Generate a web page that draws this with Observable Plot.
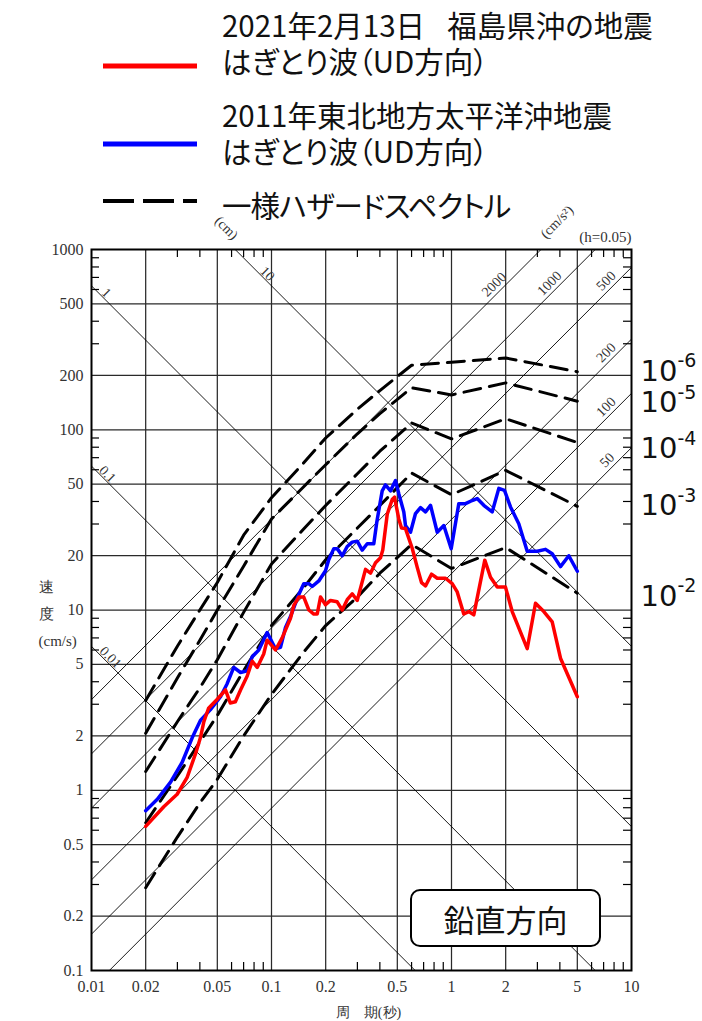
<!DOCTYPE html>
<html><head><meta charset="utf-8">
<script src="https://cdn.jsdelivr.net/npm/d3@7"></script>
<script src="https://cdn.jsdelivr.net/npm/@observablehq/plot@0.6"></script>
<style>
body{margin:0;background:#fff;}
#wrap{position:relative;width:702px;height:1021px;overflow:hidden;background:#fff;}
#legend{position:relative;width:702px;height:205px;font-family:"Noto Sans CJK JP","Noto Sans",sans-serif;color:#111;}
.lt{position:absolute;left:222px;font-size:29.5px;line-height:35.5px;white-space:nowrap;font-feature-settings:"palt";}
#box{position:absolute;left:410px;top:889px;width:191px;height:58px;box-sizing:border-box;border:2px solid #000;border-radius:10px;background:#fff;font-family:"Noto Sans CJK JP",sans-serif;font-size:31px;display:flex;align-items:center;justify-content:center;color:#111;}
#chart svg{display:block;}
</style></head>
<body><div id="wrap">
<div id="legend"></div>
<div id="chart"></div>
<div id="box"></div>
</div>
<script>
// ---------- legend / annotation text ----------
const legendTexts = [["2021年2月13日\u2002\u2005福島県沖の地震", "はぎとり波（UD方向）"], ["2011年東北地方太平洋沖地震", "はぎとり波（UD方向）"], ["一様ハザードスペクトル"]];
const boxText = "鉛直方向";

// ---------- axes ----------
const xTicks = [0.01, 0.02, 0.05, 0.1, 0.2, 0.5, 1, 2, 5, 10];
const xTickLabels = ["0.01", "0.02", "0.05", "0.1", "0.2", "0.5", "1", "2", "5", "10"];
const yTicks = [0.1, 0.2, 0.5, 1, 2, 5, 10, 20, 50, 100, 200, 500, 1000];
const yTickLabels = ["0.1", "0.2", "0.5", "1", "2", "5", "10", "20", "50", "100", "200", "500", "1000"];
const minorMult = [3, 4, 6, 7, 8, 9];
const xDecades = [0.01, 0.1, 1];
const yDecades = [0.1, 1, 10, 100];

// ---------- tripartite lines ----------
const dispValues = [0.01, 0.1, 1, 10];          // cm
const dispLabels = ["0.01", "0.1", "1", "10"];
const dispLabelT = [0.01227, 0.01181, 0.01166, 0.0914];
const accValues = [50, 100, 200, 500, 1000, 2000];  // cm/s2
const accLabels = ["50", "100", "200", "500", "1000", "2000"];
const accLabelT = [7.9, 7.8, 7.8, 7.8, 3.78, 1.86];

// ---------- uniform hazard spectra (h=0.05) ----------
const hazardT = [0.02, 0.03, 0.04, 0.05, 0.07, 0.1, 0.15, 0.2, 0.3, 0.4, 0.6, 1, 2, 5];
const hazard1e6 = [3.15, 6.3, 10, 14.2, 26, 42, 65, 90, 130, 165, 228, 237, 250, 210];
const hazard1e5 = [2.07, 4.2, 6.8, 10, 17.5, 32, 48, 64, 95, 123, 171, 156, 182, 144];
const hazard1e4 = [1.27, 2.4, 3.7, 5.3, 9.7, 18, 28, 38, 57, 76, 109, 89, 115, 85];
const hazard1e3 = [0.66, 1.2, 1.85, 2.6, 4.6, 8.2, 13.2, 19, 28.5, 38, 57.5, 43.6, 59.5, 37.6];
const hazard1e2 = [0.288, 0.55, 0.85, 1.15, 2.0, 3.4, 5.8, 8.2, 11.8, 16, 23.1, 17, 22.2, 12.4];
const probLabels = ["-6", "-5", "-4", "-3", "-2"];
const probLabelV = [211, 141, 78, 38, 11.9];

// ---------- 2021 Fukushima-oki (red) ----------
const T2021 = [0.02, 0.0252, 0.0299, 0.034, 0.0378, 0.0403, 0.0421, 0.0447, 0.05, 0.0555, 0.059, 0.063, 0.0673, 0.0733, 0.0781, 0.0833, 0.0905, 0.0946, 0.1052, 0.1146, 0.1275, 0.133, 0.1418, 0.1511, 0.1612, 0.1718, 0.1795, 0.1872, 0.1995, 0.2127, 0.2317, 0.2471, 0.2634, 0.2808, 0.2994, 0.3329, 0.3548, 0.3784, 0.4033, 0.4151, 0.4395, 0.4684, 0.4824, 0.5096, 0.5275, 0.5551, 0.6049, 0.6446, 0.6813, 0.7172, 0.7743, 0.8332, 0.9261, 1.009, 1.076, 1.17, 1.248, 1.33, 1.531, 1.647, 1.795, 1.995, 2.174, 2.634, 2.929, 3.257, 3.626, 4.032, 5.0];
const V2021 = [0.63, 0.81, 0.95, 1.18, 1.59, 1.96, 2.4, 2.85, 3.2, 3.6, 3.05, 3.1, 3.6, 4.3, 5.2, 4.8, 5.7, 6.8, 6.0, 7.0, 9.0, 10.6, 11.8, 11.8, 10.0, 9.5, 9.5, 11.8, 10.7, 11.3, 11.1, 10.0, 11.4, 12.3, 11.3, 16.8, 16.0, 18.3, 19.5, 21.5, 34, 41, 42.3, 32, 28.5, 28.3, 22, 17.3, 14.2, 13.6, 15.8, 15.0, 15.0, 14.0, 12.6, 9.5, 9.8, 9.4, 18.9, 15.2, 13.4, 13.4, 9.8, 6.1, 10.9, 9.8, 8.6, 5.4, 3.3];

// ---------- 2011 Tohoku (blue) ----------
const T2011 = [0.02, 0.0232, 0.0275, 0.0319, 0.0363, 0.0404, 0.0458, 0.0521, 0.0567, 0.0617, 0.0673, 0.0733, 0.0781, 0.085, 0.0946, 0.1052, 0.1122, 0.1196, 0.1275, 0.1418, 0.1511, 0.1612, 0.1683, 0.1832, 0.1995, 0.208, 0.2219, 0.2317, 0.2471, 0.2634, 0.2808, 0.2994, 0.3191, 0.3402, 0.3701, 0.385, 0.4121, 0.4299, 0.4583, 0.4886, 0.5096, 0.5433, 0.5551, 0.5918, 0.631, 0.6727, 0.7172, 0.7645, 0.8332, 0.9063, 0.9961, 1.098, 1.196, 1.303, 1.389, 1.511, 1.683, 1.832, 1.97, 2.127, 2.365, 2.634, 2.994, 3.329, 3.626, 4.032, 4.484, 5.0];
const V2011 = [0.77, 0.89, 1.11, 1.43, 1.96, 2.45, 2.8, 3.3, 3.9, 4.8, 4.5, 4.6, 5.5, 6.0, 7.5, 6.1, 6.2, 8.0, 9.2, 12.2, 14.0, 14.0, 13.5, 14.5, 16.5, 19.0, 21.9, 21.9, 20.0, 22.5, 23.8, 24.1, 21.5, 23.3, 23.3, 31, 45.8, 49.4, 45.8, 52.3, 44.2, 35, 29.4, 27.0, 34.3, 37, 35.0, 38.1, 27.0, 29.4, 21.9, 38.9, 38.9, 40.5, 41.5, 38.1, 35.0, 47.3, 46.1, 37.3, 30.1, 21.2, 21.2, 21.7, 20.5, 17.4, 20.0, 16.4];

// ---------- build legend ----------
const legendTops = [7, 97, 187];
const legendSpacing = ["0px", "0px", "-1px"];
const legend = document.getElementById("legend");
const NS = "http://www.w3.org/2000/svg";
const lsvg = document.createElementNS(NS, "svg");
lsvg.setAttribute("width", 220); lsvg.setAttribute("height", 205);
lsvg.style.position = "absolute"; lsvg.style.left = "0"; lsvg.style.top = "0";
[["#ff0000", 66, null], ["#0000ff", 144, null], ["#000", 201, "31,9"]].forEach(([c, y, dash]) => {
  const l = document.createElementNS(NS, "line");
  l.setAttribute("x1", 103); l.setAttribute("x2", 197);
  l.setAttribute("y1", y); l.setAttribute("y2", y);
  l.setAttribute("stroke", c); l.setAttribute("stroke-width", dash ? 4 : 5);
  if (dash) l.setAttribute("stroke-dasharray", dash);
  lsvg.appendChild(l);
});
legend.appendChild(lsvg);
legendTexts.forEach((lines, i) => {
  const d = document.createElement("div");
  d.className = "lt"; d.style.top = legendTops[i] + "px"; d.style.letterSpacing = legendSpacing[i];
  lines.forEach((t, j) => {
    if (j) d.appendChild(document.createElement("br"));
    d.appendChild(document.createTextNode(t));
  });
  legend.appendChild(d);
});
document.getElementById("box").textContent = boxText;

// ---------- derived tables ----------
const minorX = xDecades.flatMap(d => minorMult.map(m => d * m));
const minorY = yDecades.flatMap(d => minorMult.map(m => d * m));
const gridX = xTicks.slice(1, -1);
const gridY = yTicks.slice(1, -1);
const twoPi = 2 * Math.PI;
const dispLines = dispValues.flatMap(D => [0.01, 10].map(T => ({T, V: twoPi * D / T, k: D})));
const accLines = accValues.flatMap(A => [0.01, 10].map(T => ({T, V: A * T / twoPi, k: A})));
const dispLab = dispValues.map((D, i) => ({T: dispLabelT[i], V: twoPi * D / dispLabelT[i], t: dispLabels[i]}));
const accLab = accValues.map((A, i) => ({T: accLabelT[i], V: A * accLabelT[i] / twoPi, t: accLabels[i]}));
const hazardSets = [hazard1e6, hazard1e5, hazard1e4, hazard1e3, hazard1e2];
const hazard = hazardSets.flatMap((vals, p) => hazardT.map((T, i) => ({T, V: vals[i], p})));
const red = T2021.map((T, i) => ({T, V: V2021[i]}));
const blue = T2011.map((T, i) => ({T, V: V2011[i]}));
const probs = probLabels.map((e, i) => ({e, V: probLabelV[i]}));
const xLab = xTicks.map((T, i) => ({T, t: xTickLabels[i]}));
const yLab = yTicks.map((V, i) => ({V, t: yTickLabels[i]}));

const serif = "Liberation Serif, DejaVu Serif, serif";
const gray = "#333";

const chart = Plot.plot({
  width: 702, height: 816,
  marginLeft: 91, marginRight: 71, marginTop: 44, marginBottom: 51,
  x: {type: "log", domain: [0.01, 10], axis: null},
  y: {type: "log", domain: [0.1, 1000], axis: null},
  style: {background: "#fff", overflow: "visible"},
  marks: [
    Plot.ruleX(gridX, {stroke: "#2a2a2a", strokeWidth: 1.25}),
    Plot.ruleY(gridY, {stroke: "#2a2a2a", strokeWidth: 1.25}),
    Plot.line(dispLines, {x: "T", y: "V", z: "k", stroke: "#000", strokeWidth: 0.9, clip: true}),
    Plot.line(accLines, {x: "T", y: "V", z: "k", stroke: "#000", strokeWidth: 0.9, clip: true}),
    Plot.tickX(minorX, {x: d => d, insetBottom: 713, stroke: "#000", strokeWidth: 1.2}),
    Plot.tickX(minorX, {x: d => d, insetTop: 713, stroke: "#000", strokeWidth: 1.2}),
    Plot.tickY(minorY, {y: d => d, insetRight: 532, stroke: "#000", strokeWidth: 1.2}),
    Plot.tickY(minorY, {y: d => d, insetLeft: 532, stroke: "#000", strokeWidth: 1.2}),
    Plot.text(dispLab, {x: "T", y: "V", text: "t", rotate: 45, dx: 3, dy: -5, fontSize: 14, fontFamily: serif, fill: gray}),
    Plot.text(accLab, {x: "T", y: "V", text: "t", rotate: -45, dx: -6, dy: -6, fontSize: 14, fontFamily: serif, fill: gray}),
    Plot.text(["(cm)"], {x: 0.0562, y: 1316, text: d => d, rotate: 45, fontSize: 14, fontFamily: serif, fill: gray}),
    Plot.text(["(cm/s²)"], {x: 3.85, y: 1422, text: d => d, rotate: -45, fontSize: 14, fontFamily: serif, fill: gray}),
    Plot.text(["(h=0.05)"], {text: d => d, frameAnchor: "top-right", lineAnchor: "middle", textAnchor: "end", dy: -12, fontSize: 15, fontFamily: serif, fill: gray}),
    Plot.line(hazard, {x: "T", y: "V", z: "p", stroke: "#000", strokeWidth: 3, strokeDasharray: "17,9"}),
    Plot.line(blue, {x: "T", y: "V", stroke: "#0000ff", strokeWidth: 3.5}),
    Plot.line(red, {x: "T", y: "V", stroke: "#ff0000", strokeWidth: 3.5}),
    Plot.frame({stroke: "#000", strokeWidth: 2}),
    Plot.text(xLab, {x: "T", text: "t", frameAnchor: "bottom", lineAnchor: "middle", dy: 16, fontSize: 16, fontFamily: serif, fill: gray}),
    Plot.text(yLab, {y: "V", text: "t", frameAnchor: "left", textAnchor: "end", lineAnchor: "middle", dx: -8, fontSize: 16, fontFamily: serif, fill: gray}),
    Plot.text(["速\n度\n(cm/s)"], {text: d => d, frameAnchor: "left", lineAnchor: "middle", dx: -53, lineHeight: 1.8, fontSize: 15, fontFamily: serif, fill: gray}),
    Plot.text(["周　期(秒)"], {text: d => d, frameAnchor: "bottom", lineAnchor: "middle", dx: 7, dy: 42, fontSize: 14, fontFamily: serif, fill: gray}),
    Plot.text(probs, {y: "V", text: () => "10", frameAnchor: "right", textAnchor: "start", dx: 9, fontSize: 29, fontFamily: "DejaVu Sans, sans-serif", fill: "#111"}),
    Plot.text(probs, {y: "V", text: "e", frameAnchor: "right", textAnchor: "start", dx: 46, dy: -10, fontSize: 19, fontFamily: "DejaVu Sans, sans-serif", fill: "#111"})
  ]
});
document.getElementById("chart").appendChild(chart);
</script>
</body></html>
